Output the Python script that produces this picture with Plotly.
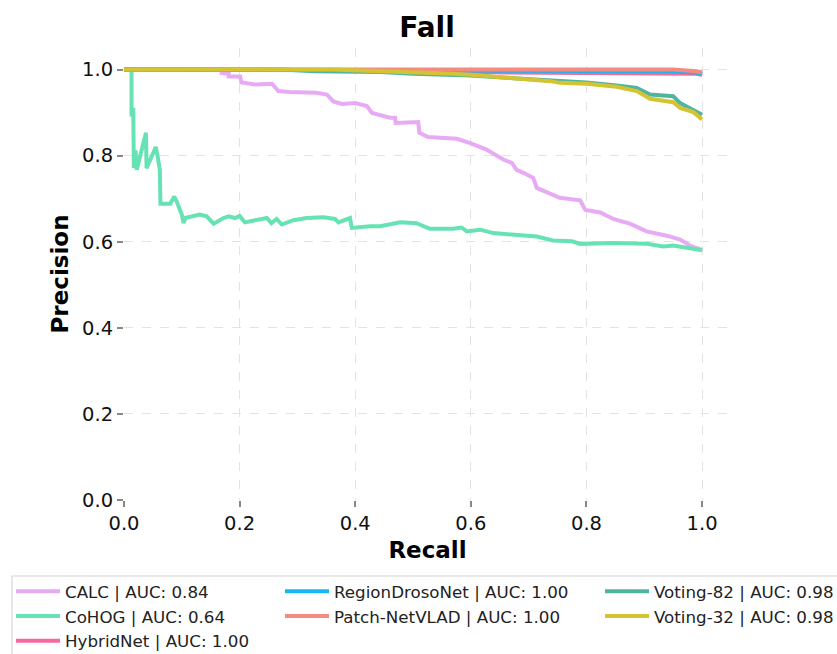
import plotly.graph_objects as go

# ---------------- data ----------------
names = ["CALC", "CoHOG", "HybridNet", "RegionDrosoNet", "Patch-NetVLAD", "Voting-82", "Voting-32"]
aucs = ["0.84", "0.64", "1.00", "1.00", "1.00", "0.98", "0.98"]
colors = ["#e9aaf5", "#67e2b4", "#f768a1", "#19b7f0", "#f28c80", "#50b4a0", "#d4c432"]

calc_r = [0, 0.169, 0.169, 0.181, 0.181, 0.201, 0.203, 0.227, 0.256, 0.267, 0.287, 0.333, 0.351,
          0.362, 0.377, 0.400, 0.420, 0.429, 0.460, 0.469, 0.470, 0.509, 0.511, 0.526, 0.576,
          0.599, 0.627, 0.642, 0.656, 0.671, 0.679, 0.691, 0.708, 0.714, 0.731, 0.754, 0.789,
          0.798, 0.824, 0.846, 0.875, 0.904, 0.939, 0.962, 0.982, 1.0]
calc_p = [1.0, 1.0, 0.992, 0.990, 0.984, 0.984, 0.970, 0.965, 0.967, 0.950, 0.948, 0.946, 0.942,
          0.926, 0.920, 0.922, 0.915, 0.899, 0.888, 0.888, 0.876, 0.878, 0.853, 0.843, 0.839,
          0.829, 0.814, 0.802, 0.791, 0.783, 0.767, 0.760, 0.748, 0.725, 0.715, 0.702, 0.696,
          0.674, 0.668, 0.653, 0.642, 0.624, 0.614, 0.605, 0.589, 0.581]

cohog_r = [0, 0.013, 0.013, 0.016, 0.017, 0.020, 0.022, 0.038, 0.039, 0.055, 0.058, 0.062, 0.063,
           0.080, 0.087, 0.091, 0.100, 0.103, 0.106, 0.123, 0.131, 0.143, 0.155, 0.172, 0.181,
           0.192, 0.200, 0.209, 0.229, 0.247, 0.255, 0.264, 0.273, 0.293, 0.316, 0.345, 0.365,
           0.371, 0.391, 0.394, 0.426, 0.443, 0.478, 0.506, 0.529, 0.570, 0.584, 0.593, 0.616,
           0.639, 0.714, 0.742, 0.775, 0.789, 0.846, 0.904, 0.933, 0.950, 1.0]
cohog_p = [1.0, 1.0, 0.891, 0.911, 0.771, 0.812, 0.767, 0.853, 0.771, 0.820, 0.800, 0.767, 0.688,
           0.688, 0.705, 0.694, 0.663, 0.643, 0.655, 0.659, 0.663, 0.659, 0.642, 0.655, 0.659,
           0.655, 0.660, 0.645, 0.650, 0.655, 0.643, 0.653, 0.640, 0.650, 0.655, 0.657, 0.653,
           0.645, 0.655, 0.632, 0.636, 0.636, 0.645, 0.643, 0.630, 0.630, 0.633, 0.624, 0.628,
           0.620, 0.612, 0.603, 0.601, 0.595, 0.597, 0.595, 0.589, 0.591, 0.580]

hybrid_r = [0, 0.55, 0.60, 0.80, 0.95, 0.99, 1.0]
hybrid_p = [1.0, 0.998, 0.994, 0.993, 0.992, 0.990, 0.988]

region_r = [0, 0.80, 0.95, 0.99, 1.0]
region_p = [1.0, 0.998, 0.996, 0.993, 0.990]

patch_r = [0, 0.95, 0.99, 1.0]
patch_p = [1.0, 1.0, 0.996, 0.993]

v82_r = [0, 0.275, 0.33, 0.443, 0.5, 0.558, 0.6, 0.673, 0.737, 0.754, 0.8, 0.852, 0.887, 0.910,
         0.950, 0.962, 0.985, 1.0]
v82_p = [1.0, 1.0, 0.996, 0.994, 0.990, 0.988, 0.986, 0.980, 0.975, 0.973, 0.970, 0.963, 0.957,
         0.942, 0.938, 0.922, 0.907, 0.895]

v32_r = [0, 0.36, 0.443, 0.5, 0.558, 0.6, 0.673, 0.737, 0.754, 0.8, 0.852, 0.887, 0.910, 0.950,
         0.962, 0.985, 1.0]
v32_p = [1.0, 1.0, 0.996, 0.994, 0.991, 0.988, 0.981, 0.973, 0.969, 0.967, 0.960, 0.950, 0.932,
         0.924, 0.911, 0.901, 0.884]

recalls = [calc_r, cohog_r, hybrid_r, region_r, patch_r, v82_r, v32_r]
precisions = [calc_p, cohog_p, hybrid_p, region_p, patch_p, v82_p, v32_p]
legend_ids = ["legend", "legend", "legend", "legend2", "legend2", "legend3", "legend3"]

xticks = [0.0, 0.2, 0.4, 0.6, 0.8, 1.0]
yticks = [0.0, 0.2, 0.4, 0.6, 0.8, 1.0]

# ---------------- layout geometry (pixels) ----------------
W, H = 837, 654
PL, PR, PT, PB = 124, 731, 48, 500


def px_x(px):
    return (px - PL) / (PR - PL)


def px_y(py):
    return (PB - py) / (PB - PT)


FONT = "DejaVu Sans"

fig = go.Figure()
for i, name in enumerate(names):
    fig.add_trace(go.Scatter(
        x=recalls[i], y=precisions[i], mode="lines",
        name=f"{name} | AUC: {aucs[i]}",
        line=dict(color=colors[i], width=4),
        legend=legend_ids[i], legendgroup=name,
    ))

leg_common = dict(
    xanchor="left", yanchor="top", orientation="v",
    bgcolor="rgba(0,0,0,0)", borderwidth=0,
    font=dict(family=FONT, size=16.7, color="#222222"),
    itemwidth=44, tracegroupgap=0,
)

fig.update_layout(
    width=W, height=H,
    margin=dict(l=PL, r=W - PR, t=PT, b=H - PB, autoexpand=False),
    paper_bgcolor="white", plot_bgcolor="white",
    font=dict(family=FONT, color="#111111"),
    title=dict(text="<b>Fall</b>", x=(427) / W, xanchor="center", y=1 - 27 / H, yanchor="middle",
               font=dict(family=FONT, size=28, color="black")),
    xaxis=dict(
        range=[0, 1.05], tickvals=xticks, ticktext=[f"{v:.1f}" for v in xticks],
        showgrid=True, gridcolor="#e3e3e3", griddash="dash", gridwidth=1,
        zeroline=False, showline=False,
        ticks="outside", ticklen=6, tickwidth=1.5, tickcolor="#888888",
        tickfont=dict(family=FONT, size=19.5, color="#111111"),
        title=dict(text="<b>Recall</b>", font=dict(family=FONT, size=23, color="black"), standoff=7),
    ),
    yaxis=dict(
        range=[0, 1.05], tickvals=yticks, ticktext=[f"{v:.1f}" for v in yticks],
        showgrid=True, gridcolor="#e3e3e3", griddash="dash", gridwidth=1,
        zeroline=False, showline=False,
        ticks="outside", ticklen=6, tickwidth=1.5, tickcolor="#888888",
        tickfont=dict(family=FONT, size=19.5, color="#111111"),
        title=dict(text="<b>Precision</b>", font=dict(family=FONT, size=23, color="black"), standoff=7),
    ),
    legend=dict(x=px_x(11), y=px_y(574), **leg_common),
    legend2=dict(x=px_x(280), y=px_y(574), **leg_common),
    legend3=dict(x=px_x(600), y=px_y(574), **leg_common),
    shapes=[dict(
        type="rect", xref="paper", yref="paper",
        x0=px_x(12), x1=px_x(860), y0=px_y(680), y1=px_y(576),
        line=dict(color="#d6d6d6", width=1.2), fillcolor="rgba(255,255,255,0)", layer="below",
    )],
)

fig.write_html("out.html")
